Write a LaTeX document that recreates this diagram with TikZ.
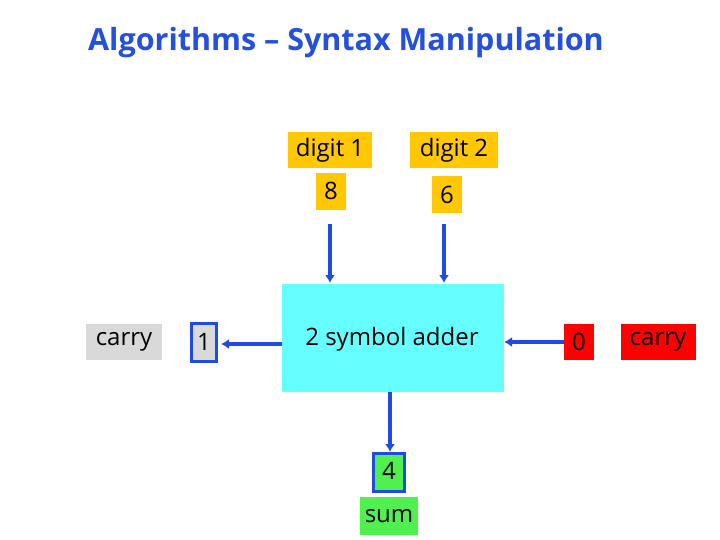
\documentclass[tikz,border=0pt]{standalone}
\usepackage{fontspec}
\setmainfont{Open Sans}
\usetikzlibrary{arrows.meta}
\definecolor{ttl}{RGB}{35,80,220}
\definecolor{arr}{RGB}{30,75,225}
\definecolor{gold}{RGB}{255,200,0}
\definecolor{cyanb}{RGB}{102,255,255}
\definecolor{grayb}{RGB}{217,217,217}
\definecolor{redb}{RGB}{255,0,0}
\definecolor{greenb}{RGB}{80,240,80}
\begin{document}
\begin{tikzpicture}[x=1pt,y=-1pt,
  lbl/.style={font=\fontsize{24}{28}\selectfont, inner sep=0pt, text=black},
  conn/.style={draw=arr, line width=4pt, -{Latex[length=8pt,width=10pt]}},
  boxed/.style={draw=arr, line width=3pt}]
\useasboundingbox (0,0) rectangle (720,540);
\fill[white] (0,0) rectangle (720,540);
% title
\node[font=\bfseries\fontsize{30.5}{34}\selectfont, text=ttl, inner sep=0pt] (title) at (346,43) {Algorithms – Syntax Manipulation};
% digit labels
\fill[gold] (288,132) rectangle (372,168);
\node[lbl] (d1) at (330,150) {digit 1};
\fill[gold] (410,132) rectangle (498,168);
\node[lbl] (d2) at (454,150) {digit 2};
\fill[gold] (316,173) rectangle (346,210);
\node[lbl] (v8) at (331,191) {8};
\fill[gold] (432,176) rectangle (462,213);
\node[lbl] (v6) at (447,195) {6};
% adder
\fill[cyanb] (282,284) rectangle (504,392);
\node[lbl] (adder) at (392,339) {2 symbol adder};
\coordinate (aT1) at (330,283);
\coordinate (aT2) at (444,283);
\coordinate (aL) at (282,344);
\coordinate (aR) at (504,342);
\coordinate (aB) at (390,392);
% left carry
\fill[grayb] (86,324) rectangle (162,360);
\node[lbl] (cl) at (124,342) {carry};
\fill[grayb] (190,322) rectangle (218,363);
\draw[boxed] (191.5,323.5) rectangle (216.5,361.5);
\node[lbl] (one) at (204,342) {1};
\coordinate (oneR) at (221,344);
% right carry
\fill[redb] (564,324) rectangle (594,360);
\node[lbl] (zero) at (579,342) {0};
\coordinate (zeroL) at (564,342);
\fill[redb] (621,324) rectangle (696,360);
\node[lbl] (cr) at (658,342) {carry};
% sum
\fill[greenb] (372,452) rectangle (406,493);
\draw[boxed] (373.5,453.5) rectangle (404.5,491.5);
\node[lbl] (four) at (389,471) {4};
\coordinate (fourT) at (390,452);
\fill[greenb] (360,497) rectangle (418,535);
\node[lbl] (sum) at (389,516) {sum};
% connectors
\coordinate (s8) at (330,224);
\coordinate (s6) at (444,224);
\draw[conn] (s8) -- (aT1);
\draw[conn] (s6) -- (aT2);
\draw[conn] (aL) -- (oneR);
\draw[conn] (zeroL) -- (aR);
\draw[conn] (aB) -- (fourT);
\end{tikzpicture}
\end{document}
